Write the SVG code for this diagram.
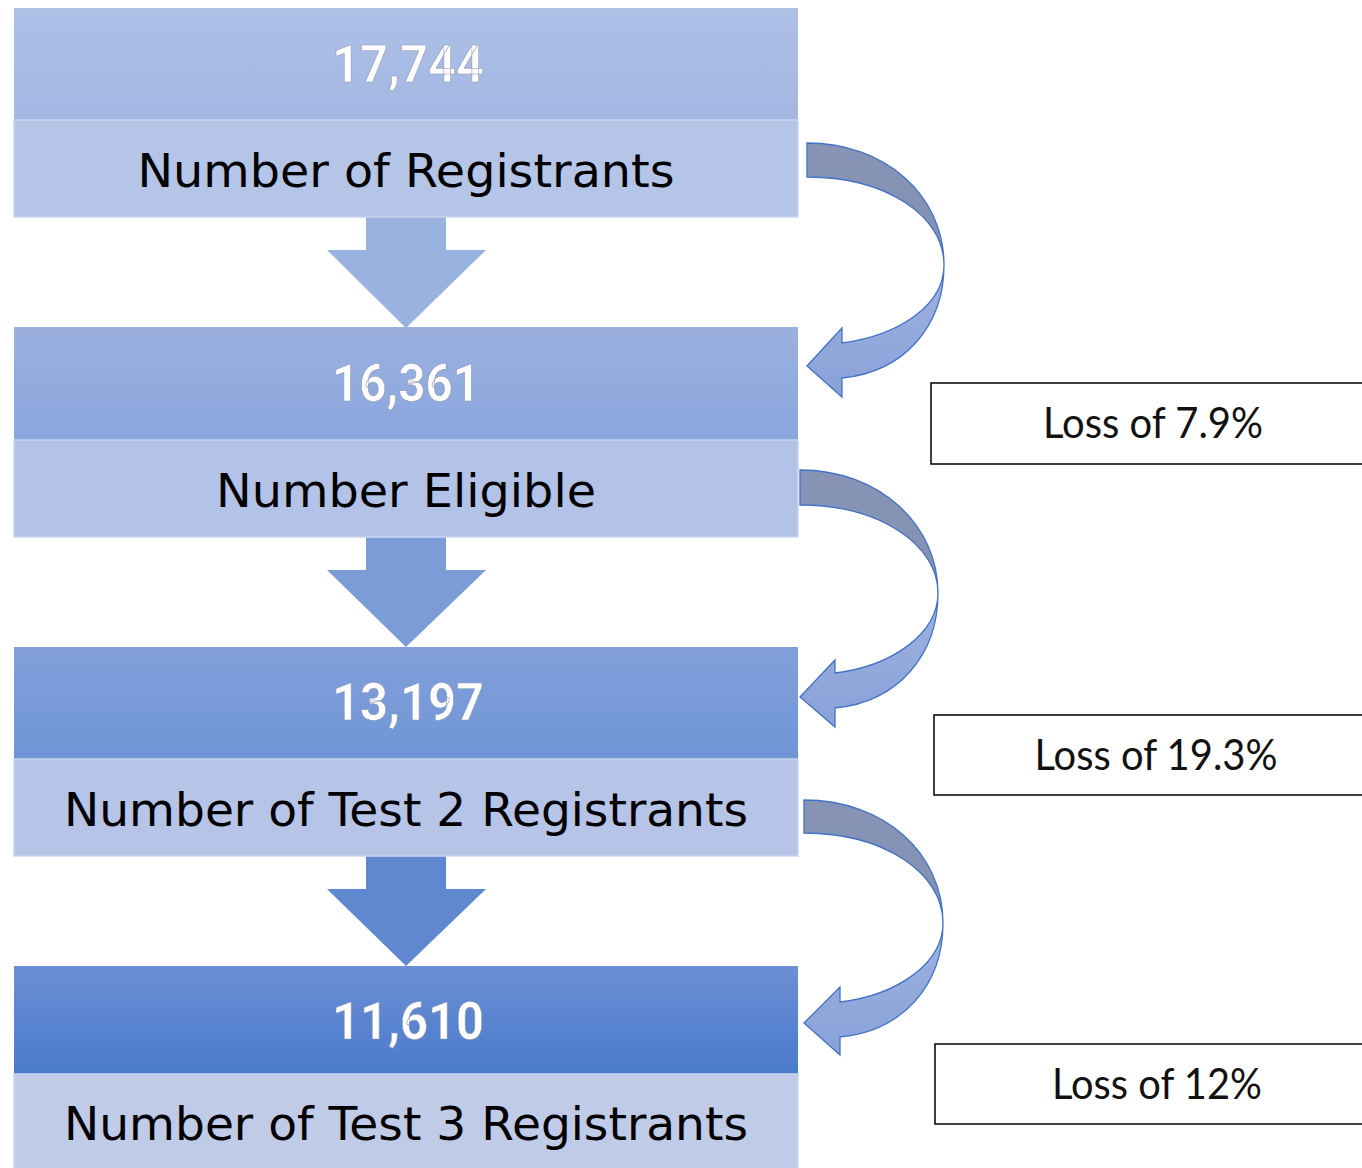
<svg xmlns="http://www.w3.org/2000/svg" width="1362" height="1168" viewBox="0 0 1362 1168">
<style>
.num{font-family:Roboto,"Liberation Sans",sans-serif;font-weight:bold;font-size:51px;fill:#ffffff;stroke:#8a96b0;stroke-width:0.6;text-anchor:middle}
.lbl{font-family:"DejaVu Sans","Liberation Sans",sans-serif;font-size:46px;fill:#000000;text-anchor:middle}
.band{stroke:#c9d5ef;stroke-width:1.5}
.loss{fill:#ffffff;stroke:#000000;stroke-width:1.5}
.losst{font-family:Lato,"Open Sans",sans-serif;font-size:42px;fill:#111111;text-anchor:middle}
.ctop{fill:url(#gTop);stroke:#4472c4;stroke-width:1.3}
.cbot{fill:url(#gBot);stroke:#4472c4;stroke-width:1.3}
</style>
<defs>
<linearGradient id="g1" x1="0" y1="0" x2="0" y2="1"><stop offset="0" stop-color="#aec0e6"/><stop offset="1" stop-color="#a3b7e2"/></linearGradient>
<linearGradient id="g2" x1="0" y1="0" x2="0" y2="1"><stop offset="0" stop-color="#9bb0df"/><stop offset="1" stop-color="#8aa7de"/></linearGradient>
<linearGradient id="g3" x1="0" y1="0" x2="0" y2="1"><stop offset="0" stop-color="#829fda"/><stop offset="1" stop-color="#6f95d6"/></linearGradient>
<linearGradient id="g4" x1="0" y1="0" x2="0" y2="1"><stop offset="0" stop-color="#6c8ed4"/><stop offset="1" stop-color="#4a7bcc"/></linearGradient>
<linearGradient id="gTop" x1="0" y1="0" x2="0" y2="1"><stop offset="0" stop-color="#8794b6"/><stop offset="1" stop-color="#8290b0"/></linearGradient>
<linearGradient id="gBot" x1="0" y1="0" x2="0" y2="1"><stop offset="0" stop-color="#a0b3e0"/><stop offset="1" stop-color="#88a1d8"/></linearGradient>
</defs>

<g id="connectors">
  <polygon points="366,217 446,217 446,250 486,250 406,328 327,250 366,250" fill="#9ab2df"/>
  <polygon points="366,537 446,537 446,570 486,570 406,647 327,570 366,570" fill="#7c9cd8"/>
  <polygon points="366,856 446,856 446,889 486,889 406,966 327,889 366,889" fill="#5f88d0"/>
  <g id="curve1">
    <path class="ctop" d="M807,143 C885,143 944,195 944,265 C944,215 885,177 807,177 Z"/>
    <path class="cbot" d="M944,265 C944,325 905,372 842,378 L842,397 L807,366 L842,328 L842,343 C900,335 944,305 944,265 Z"/>
  </g>
  <g id="curve2">
    <path class="ctop" d="M800,470 C880,470 938,525 938,593 C938,545 880,505 800,505 Z"/>
    <path class="cbot" d="M938,593 C938,655 898,702 835,708 L835,727 L800,697 L835,660 L835,673 C893,666 938,633 938,593 Z"/>
  </g>
  <g id="curve3">
    <path class="ctop" d="M804,800 C884,800 943,853 943,923 C943,873 884,833 804,833 Z"/>
    <path class="cbot" d="M943,923 C943,985 903,1031 840,1037 L840,1055 L804,1023 L840,987 L840,1002 C898,995 943,963 943,923 Z"/>
  </g>
</g>

<g id="node1">
  <rect x="14" y="8" width="784" height="112" fill="url(#g1)"/>
  <rect class="band" x="14" y="120" width="784" height="97" fill="#b4c5e8"/>
  <text class="num" x="408" y="82" textLength="152" lengthAdjust="spacingAndGlyphs">17,744</text>
  <text class="lbl" x="406" y="187" textLength="537" lengthAdjust="spacingAndGlyphs">Number of Registrants</text>
</g>
<g id="node2">
  <rect x="14" y="327" width="784" height="113" fill="url(#g2)"/>
  <rect class="band" x="14" y="440" width="784" height="97" fill="#b3c3e7"/>
  <text class="num" x="406" y="401" textLength="148" lengthAdjust="spacingAndGlyphs">16,361</text>
  <text class="lbl" x="406" y="507" textLength="380" lengthAdjust="spacingAndGlyphs">Number Eligible</text>
</g>
<g id="node3">
  <rect x="14" y="647" width="784" height="112" fill="url(#g3)"/>
  <rect class="band" x="14" y="759" width="784" height="97" fill="#b5c4e7"/>
  <text class="num" x="408" y="720" textLength="152" lengthAdjust="spacingAndGlyphs">13,197</text>
  <text class="lbl" x="406" y="826" textLength="684" lengthAdjust="spacingAndGlyphs">Number of Test 2 Registrants</text>
</g>
<g id="node4">
  <rect x="14" y="966" width="784" height="108" fill="url(#g4)"/>
  <rect class="band" x="14" y="1074" width="784" height="100" fill="#c0cbe7"/>
  <text class="num" x="408" y="1039" textLength="152" lengthAdjust="spacingAndGlyphs">11,610</text>
  <text class="lbl" x="406" y="1140" textLength="684" lengthAdjust="spacingAndGlyphs">Number of Test 3 Registrants</text>
</g>

<g id="loss1">
  <rect class="loss" x="931" y="383" width="440" height="81"/>
  <text class="losst" x="1153" y="438" textLength="220" lengthAdjust="spacingAndGlyphs">Loss of 7.9%</text>
</g>
<g id="loss2">
  <rect class="loss" x="934" y="715" width="440" height="80"/>
  <text class="losst" x="1156" y="770" textLength="243" lengthAdjust="spacingAndGlyphs">Loss of 19.3%</text>
</g>
<g id="loss3">
  <rect class="loss" x="935" y="1044" width="440" height="80"/>
  <text class="losst" x="1157" y="1099" textLength="210" lengthAdjust="spacingAndGlyphs">Loss of 12%</text>
</g>
</svg>
